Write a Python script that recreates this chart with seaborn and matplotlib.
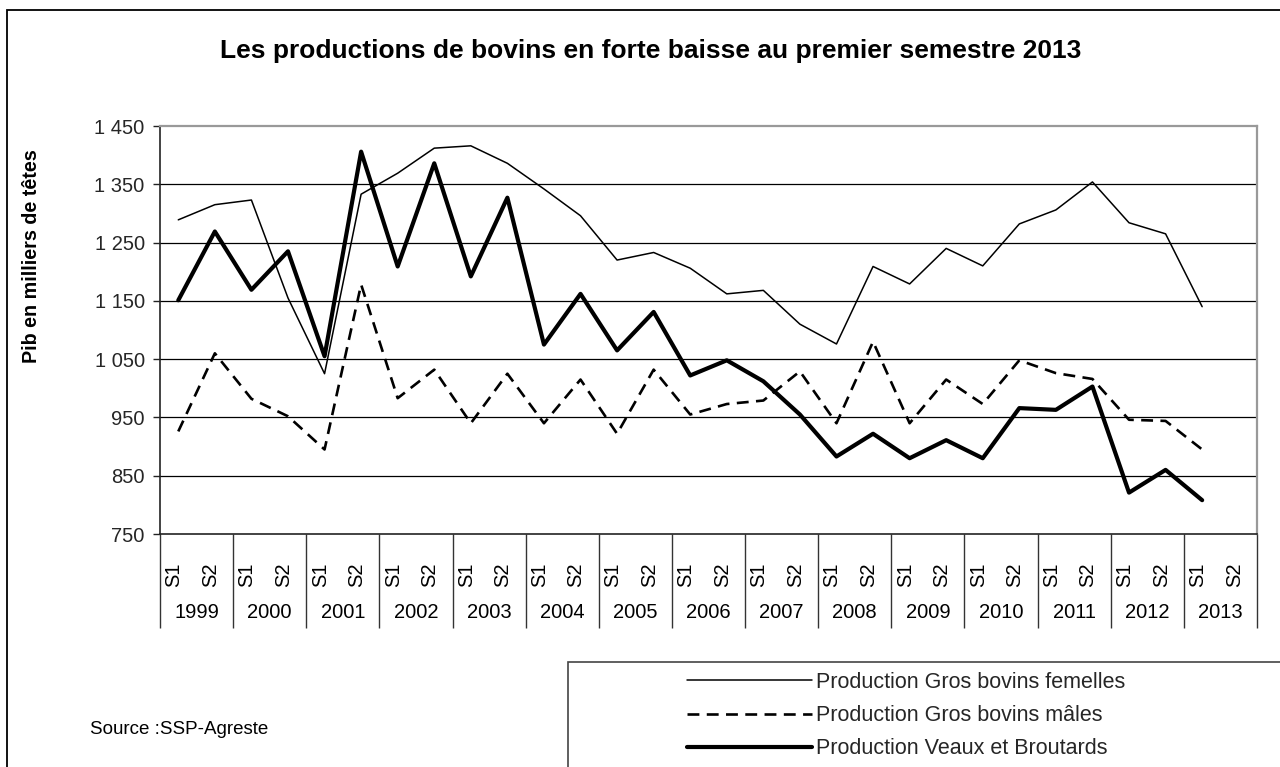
import numpy as np
import pandas as pd
import matplotlib
matplotlib.use("Agg")
import matplotlib.pyplot as plt
import matplotlib.transforms as mtransforms
from matplotlib.patches import Rectangle
from matplotlib.lines import Line2D
from matplotlib.ticker import FuncFormatter, FixedLocator
import seaborn as sns

# ---------------- data ----------------
years = [str(y) for y in range(1999, 2014)]
semesters = ["S1", "S2"]
periods = [f"{s} {y}" for y in years for s in semesters]  # 30 categories

femelles = [1289, 1315, 1323, 1155, 1025, 1333, 1369, 1412, 1416, 1386,
            1342, 1296, 1220, 1233, 1206, 1162, 1168, 1110, 1076, 1209,
            1179, 1240, 1210, 1282, 1306, 1354, 1284, 1265, 1140]
males = [926, 1060, 982, 952, 895, 1178, 983, 1032, 940, 1025,
         940, 1015, 922, 1032, 955, 973, 979, 1029, 940, 1080,
         940, 1015, 973, 1048, 1026, 1016, 946, 944, 895]
veaux = [1151, 1269, 1169, 1235, 1055, 1406, 1209, 1386, 1192, 1327,
         1075, 1162, 1065, 1131, 1022, 1048, 1012, 955, 883, 922,
         880, 911, 880, 966, 963, 1003, 821, 860, 808]

series_names = ["Production Gros bovins femelles",
                "Production Gros bovins mâles",
                "Production Veaux et Broutards"]
y_ticks = [750, 850, 950, 1050, 1150, 1250, 1350, 1450]

title = "Les productions de bovins en forte baisse au premier semestre 2013"
ylabel = "Pib en milliers de têtes"
source = "Source :SSP-Agreste"

# ---------------- style ----------------
sns.set_theme(style="white")
plt.rcParams["font.family"] = ["Liberation Sans", "DejaVu Sans"]

W, H = 1280, 767
fig = plt.figure(figsize=(W / 100, H / 100), dpi=100)
fig.patch.set_facecolor("white")

ax = fig.add_axes([160 / W, 1 - 534 / H, (1257 - 160) / W, (534 - 126) / H])
ax.set_facecolor("white")

df = pd.DataFrame({
    "pos": np.arange(len(femelles)),
    "period": periods[:len(femelles)],
    series_names[0]: femelles,
    series_names[1]: males,
    series_names[2]: veaux,
})

sns.lineplot(data=df, x="pos", y=series_names[0], ax=ax, color="black",
             linewidth=1.1, zorder=3)
sns.lineplot(data=df, x="pos", y=series_names[1], ax=ax, color="black",
             linewidth=1.9, linestyle=(0, (4.5, 2.8)), zorder=3)
sns.lineplot(data=df, x="pos", y=series_names[2], ax=ax, color="black",
             linewidth=3.0, zorder=4)

ax.set_xlim(-0.5, len(periods) - 0.5)
ax.set_ylim(y_ticks[0], y_ticks[-1])
ax.set_xlabel("")
ax.set_ylabel("")

# y axis
ax.yaxis.set_major_locator(FixedLocator(y_ticks))
ax.yaxis.set_major_formatter(FuncFormatter(lambda v, p: f"{int(v):,}".replace(",", " ")))
ax.tick_params(axis="y", which="major", direction="out", length=5, width=1,
               color="#222222", labelsize=14.5, pad=6, left=True)
for v in y_ticks[1:-1]:
    ax.axhline(v, color="black", linewidth=0.9, zorder=1)

# x axis: year separators as long ticks, no labels
boundaries = np.arange(-0.5, len(periods), 2)
ax.xaxis.set_major_locator(FixedLocator(boundaries))
ax.xaxis.set_major_formatter(FuncFormatter(lambda v, p: ""))
ax.tick_params(axis="x", which="major", direction="out", length=68, width=1,
               color="#333333", bottom=True)

trans = mtransforms.blended_transform_factory(ax.transData, fig.transFigure)
for i, p in enumerate(periods):
    s, y = p.split()
    ax.text(i - 0.12, 1 - 575 / H, s, transform=trans, rotation=90, ha="center",
            va="center", fontsize=14.5, color="black")
for j, y in enumerate(years):
    ax.text(2 * j + 0.5, 1 - 613 / H, y, transform=trans, ha="center",
            va="center", fontsize=14.5, color="black")

# spines
for side in ["left", "bottom"]:
    ax.spines[side].set_color("#222222")
    ax.spines[side].set_linewidth(1.2)
for side in ["top", "right"]:
    ax.spines[side].set_color("#999999")
    ax.spines[side].set_linewidth(1.6)
    ax.spines[side].set_visible(True)

# titles / texts
fig.text(651 / W, 1 - 51 / H, title, ha="center", va="center",
         fontsize=19, fontweight="bold", color="black")
fig.text(32 / W, 1 - 256 / H, ylabel, ha="center", va="center",
         rotation=90, fontsize=14.2, fontweight="bold", color="black")
fig.text(90 / W, 1 - 729 / H, source, ha="left", va="center",
         fontsize=13.5, color="black")

# outer frame
fig.patches.append(Rectangle((7 / W, -0.1), 1.2, (H - 10) / H + 0.1,
                             transform=fig.transFigure, fill=False,
                             edgecolor="black", linewidth=1.3))
# legend box
fig.patches.append(Rectangle((568 / W, -0.1), 1.0, (H - 662) / H + 0.1,
                             transform=fig.transFigure, fill=False,
                             edgecolor="#444444", linewidth=1.2))

handles = [Line2D([], [], color="black", linewidth=1.1),
           Line2D([], [], color="black", linewidth=1.9, linestyle=(0, (4.5, 2.8))),
           Line2D([], [], color="black", linewidth=3.0)]
fig.legend(handles, series_names, loc="upper left",
           bbox_to_anchor=(687 / W, 1 - 672 / H), frameon=False,
           fontsize=15.5, borderpad=0, borderaxespad=0, handlelength=5.8,
           handletextpad=0.19, labelspacing=0.56)

fig.savefig("out.png", dpi=100, facecolor="white")
